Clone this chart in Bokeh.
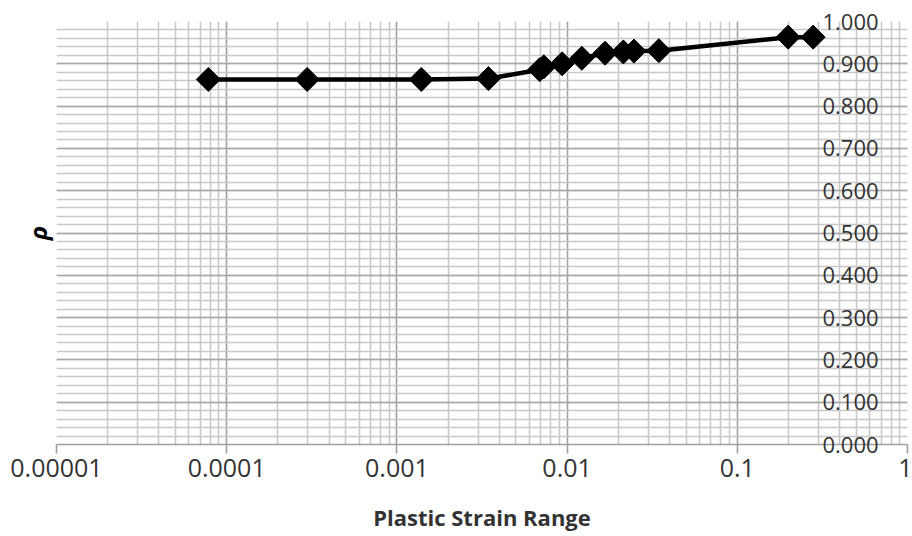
import math

from bokeh.embed import file_html
from bokeh.models import FixedTicker, LinearAxis, Range1d
from bokeh.plotting import figure
from bokeh.resources import INLINE

# Correlation coefficient rho against plastic strain range
strain = [7.8e-5, 2.97e-4, 1.39e-3, 3.45e-3, 6.9e-3, 7.3e-3, 9.35e-3,
          0.0122, 0.0167, 0.0214, 0.0247, 0.0346, 0.199, 0.279]
rho = [0.863, 0.863, 0.863, 0.865, 0.886, 0.893, 0.900,
       0.913, 0.925, 0.928, 0.930, 0.931, 0.963, 0.963]

x_ticks = [1e-5, 1e-4, 1e-3, 1e-2, 1e-1, 1.0]
x_tick_labels = ["0.00001", "0.0001", "0.001", "0.01", "0.1", "1"]
y_ticks = [0.0, 0.1, 0.2, 0.3, 0.4, 0.5, 0.6, 0.7, 0.8, 0.9, 1.0]
y_tick_labels = ["0.000", "0.100", "0.200", "0.300", "0.400", "0.500",
                 "0.600", "0.700", "0.800", "0.900", "1.000"]

FONT = "Open Sans"
TEXT = "#333333"

# minor grid positions: 2..9 within each decade, and every 0.02 on the y scale
x_minor = [m * 10.0 ** k for k in range(-5, 0) for m in range(2, 10)]
y_minor = [round(i * 0.02, 2) for i in range(51)]

p = figure(
    width=912, height=536,
    x_axis_type="log",
    x_range=Range1d(1e-5, 1.0), y_range=Range1d(0.0, 1.0),
    output_backend="svg", toolbar_location=None,
    min_border_left=56, min_border_right=5,
    min_border_top=21, min_border_bottom=92,
)
p.outline_line_color = None
p.background_fill_color = "white"
p.border_fill_color = "white"

# grid
p.xgrid.ticker = FixedTicker(ticks=x_ticks, minor_ticks=x_minor)
p.xgrid.grid_line_color = "#a0a0a0"
p.xgrid.grid_line_width = 1.6
p.xgrid.minor_grid_line_color = "#c8c8c8"
p.xgrid.minor_grid_line_width = 1.6
p.ygrid.ticker = FixedTicker(ticks=y_ticks, minor_ticks=y_minor)
p.ygrid.grid_line_color = "#a8a8a8"
p.ygrid.grid_line_width = 1.6
p.ygrid.minor_grid_line_color = "#c8c8c8"
p.ygrid.minor_grid_line_width = 1.6

# x axis
xa = p.xaxis[0]
xa.ticker = FixedTicker(ticks=x_ticks, minor_ticks=[])
xa.major_label_overrides = dict(zip(x_ticks, x_tick_labels))
xa.axis_line_color = "#a0a0a0"
xa.axis_line_width = 1.6
xa.major_tick_line_color = "#a0a0a0"
xa.major_tick_line_width = 1.6
xa.major_tick_in = 0
xa.major_tick_out = 9
xa.minor_tick_out = 0
xa.minor_tick_in = 0
xa.major_label_standoff = 5
xa.major_label_text_font = FONT
xa.major_label_text_font_size = "25px"
xa.major_label_text_color = TEXT
xa.axis_label = "Plastic Strain Range"
xa.axis_label_text_font = FONT
xa.axis_label_text_font_size = "22px"
xa.axis_label_text_font_style = "bold"
xa.axis_label_text_color = TEXT
xa.axis_label_standoff = 22

# left y axis carries only its title
ya = p.yaxis[0]
ya.ticker = FixedTicker(ticks=[], minor_ticks=[])
ya.axis_line_color = None
ya.major_tick_out = 0
ya.major_tick_in = 0
ya.minor_tick_out = 0
ya.minor_tick_in = 0
ya.axis_label = "ρ"
ya.axis_label_text_font = FONT
ya.axis_label_text_font_size = "24px"
ya.axis_label_text_font_style = "bold italic"
ya.axis_label_text_color = "black"
ya.axis_label_standoff = 3

# value axis on the right, its labels pulled back inside the plot
ra = LinearAxis(
    ticker=FixedTicker(ticks=y_ticks, minor_ticks=[]),
    major_label_overrides=dict(zip(y_ticks, y_tick_labels)),
    axis_line_color=None,
    major_tick_in=0, major_tick_out=0, minor_tick_in=0, minor_tick_out=0,
    major_label_standoff=-85,
    major_label_text_font=FONT, major_label_text_font_size="22px",
    major_label_text_color=TEXT,
)
p.add_layout(ra, "right")

# series
p.line(strain, rho, line_color="black", line_width=4.5)
p.scatter(strain, rho, marker="square", size=17, angle=math.pi / 4,
          fill_color="black", line_color="black")

open("out.html", "w").write(file_html(p, INLINE))
